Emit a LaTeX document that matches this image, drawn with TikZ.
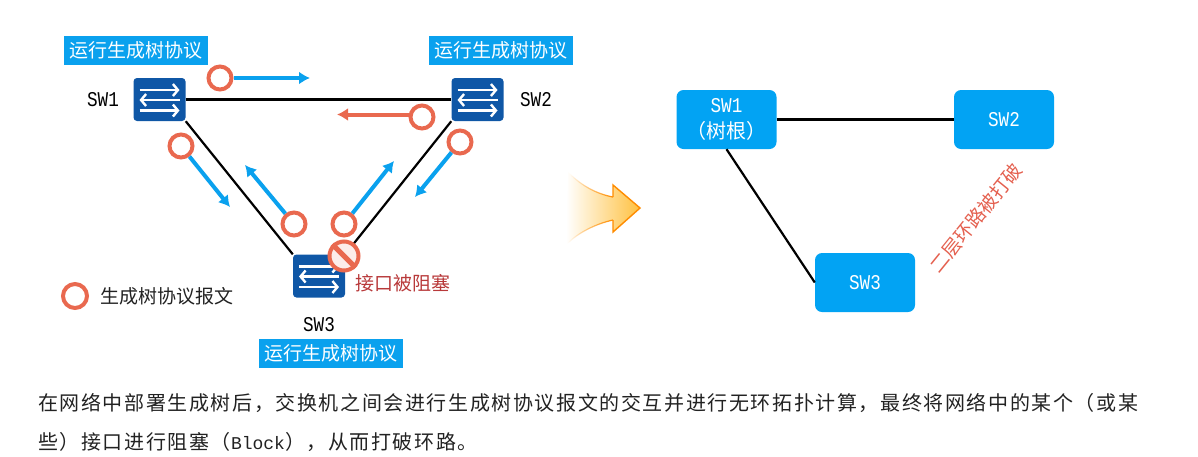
\documentclass[tikz,border=0pt]{standalone}
\usepackage{fontspec}
\usetikzlibrary{arrows.meta,fadings}
\setmainfont[FakeStretch=0.84]{Liberation Mono}
\newfontfamily\cjk{Noto Sans CJK SC}
\newfontfamily\cjkwide[LetterSpace=8]{Noto Sans CJK SC}
\newfontfamily\monowide{Liberation Mono}
\definecolor{swblue}{HTML}{0F57A6}
\definecolor{skyblue}{HTML}{0AA1EE}
\definecolor{rootblue}{HTML}{02A3F3}
\definecolor{msgred}{HTML}{E9694F}
\definecolor{alertred}{HTML}{B8393A}
\definecolor{looptext}{HTML}{E4604F}
\definecolor{bodytext}{HTML}{222222}
\tikzset{
  x=1pt,y=-1pt,
  switchbox/.style={draw=none,fill=swblue,rounded corners=3.5pt,minimum width=52pt,minimum height=43pt,inner sep=0pt},
  tagbox/.style={fill=skyblue,text=white,minimum width=144pt,minimum height=29pt,inner sep=0pt,font=\cjk\fontsize{19}{20}\selectfont},
  swname/.style={text=black,inner sep=0pt,font=\fontsize{21}{22}\selectfont},
  link/.style={draw=black,line width=2.2pt},
  msg/.style={circle,draw=msgred,line width=4pt,fill=white,minimum size=23pt,inner sep=0pt},
  flow/.style={draw=skyblue,line width=4pt,-{Latex[length=11pt,width=13pt]}},
  backflow/.style={draw=msgred,line width=4pt,-{Latex[length=11pt,width=13pt]}},
  treebox/.style={fill=rootblue,text=white,rounded corners=7pt,minimum width=100pt,minimum height=59pt,inner sep=0pt,align=center,font=\fontsize{21}{26}\selectfont},
  glyph/.style={draw=white,line width=2.4pt,-{Straight Barb[length=5pt,width=12pt,line width=2.4pt]}},
  bodyline/.style={anchor=west,inner sep=0pt,text=bodytext,font=\cjkwide\fontsize{20}{24}\selectfont},
}
\newcommand{\swglyph}[1]{%
  \begin{scope}[shift={(#1)}]
    \draw[glyph] (-20,-9.5) -- (20,-9.5);
    \draw[glyph] (20,0.5) -- (-20,0.5);
    \draw[glyph] (-20,11) -- (20,11);
  \end{scope}}
\begin{document}
\begin{tikzpicture}
\useasboundingbox (0,0) rectangle (1198,456);

% left topology: switches and links
\node[switchbox] (s1) at (159.5,99.5) {};
\node[switchbox] (s2) at (477.5,99.5) {};
\node[switchbox] (s3) at (319,276) {};
\draw[link] (s1) -- (s2);
\draw[link] (s1.south east) -- (s3.north west);
\draw[link] (s2.south west) -- (s3.north east);
\swglyph{s1}
\swglyph{s2}
\swglyph{s3}

\node[swname] (n1) at (103,100) {SW1};
\node[swname] (n2) at (536,100) {SW2};
\node[swname] (n3) at (319,325) {SW3};

\node[tagbox] (t1) at (135.5,50.5) {运行生成树协议};
\node[tagbox] (t2) at (501,50.5) {运行生成树协议};
\node[tagbox] (t3) at (331,353) {运行生成树协议};

% protocol messages and their directions
\coordinate (e1) at (310,78);
\coordinate (b2) at (415,114.5);
\coordinate (e2) at (337,114.5);
\coordinate (e3) at (230,207);
\coordinate (e4) at (415,197);
\coordinate (e5) at (245,165);
\coordinate (e6) at (394,161);
\node[msg] (m1) at (220,78) {};
\node[msg] (m3) at (181,146) {};
\node[msg] (m4) at (460,142) {};
\node[msg] (m5) at (294,224) {};
\node[msg] (m6) at (344,224) {};
\draw[flow] (m1) -- (e1);
\draw[backflow] (b2) -- (e2);
\node[msg] (m2) at (422,117) {};
\draw[flow] (m3) -- (e3);
\draw[flow] (m4) -- (e4);
\draw[flow] (m5) -- (e5);
\draw[flow] (m6) -- (e6);

% blocked port
\node[circle,draw=msgred,line width=4pt,fill=msgred!12,minimum size=29pt,inner sep=0pt] (block) at (344,256) {};
\draw[msgred,line width=5pt] (block.north west) -- (block.south east);
\node[inner sep=0pt,text=alertred,font=\cjk\fontsize{19}{20}\selectfont] (blocklabel) at (402.5,283) {接口被阻塞};

% legend
\node[msg,minimum size=24pt] (legendmark) at (75,296) {};
\node[inner sep=0pt,text=bodytext,font=\cjk\fontsize{19}{20}\selectfont] (legendtext) at (166.5,296) {生成树协议报文};

% transition arrow
\path[left color=white,right color=orange!65!yellow!75!white]
  (568,172) .. controls (582,186) and (597,194) .. (613,197) -- (613,185) -- (640,208) -- (613,232) -- (613,220)
  .. controls (595,224) and (578,233) .. (566,245) -- cycle;
\draw[draw=orange!90!yellow,line width=1.4pt,line join=miter] (613,197) -- (613,185) -- (640,208) -- (613,232) -- (613,220);
\draw[draw=orange!90!yellow,line width=1.2pt,path fading=west] (570,174) .. controls (582,186) and (597,194) .. (613,197);
\draw[draw=orange!90!yellow,line width=1.2pt,path fading=west] (568,243) .. controls (578,233) and (595,224) .. (613,220);

% resulting tree
\node[treebox] (r1) at (726.5,119.5) {SW1\\{\cjk\fontsize{20}{26}\selectfont （树根）}};
\node[treebox] (r2) at (1004,119.5) {SW2};
\node[treebox] (r3) at (865,282.5) {SW3};
\draw[link] (r1) -- (r2);
\draw[link] (r1.south) -- (r3.west);
\node[rotate=51,inner sep=0pt,text=looptext,font=\cjk\fontsize{19}{20}\selectfont] (broken) at (976,218) {二层环路被打破};

% caption
\node[bodyline] (cap1) at (38,403) {在网络中部署生成树后，交换机之间会进行生成树协议报文的交互并进行无环拓扑计算，最终将网络中的某个（或某};
\node[bodyline] (cap2) at (38,442) {些）接口进行阻塞（{\monowide\fontsize{18}{24}\selectfont Block}），从而打破环路。};
\end{tikzpicture}
\end{document}
